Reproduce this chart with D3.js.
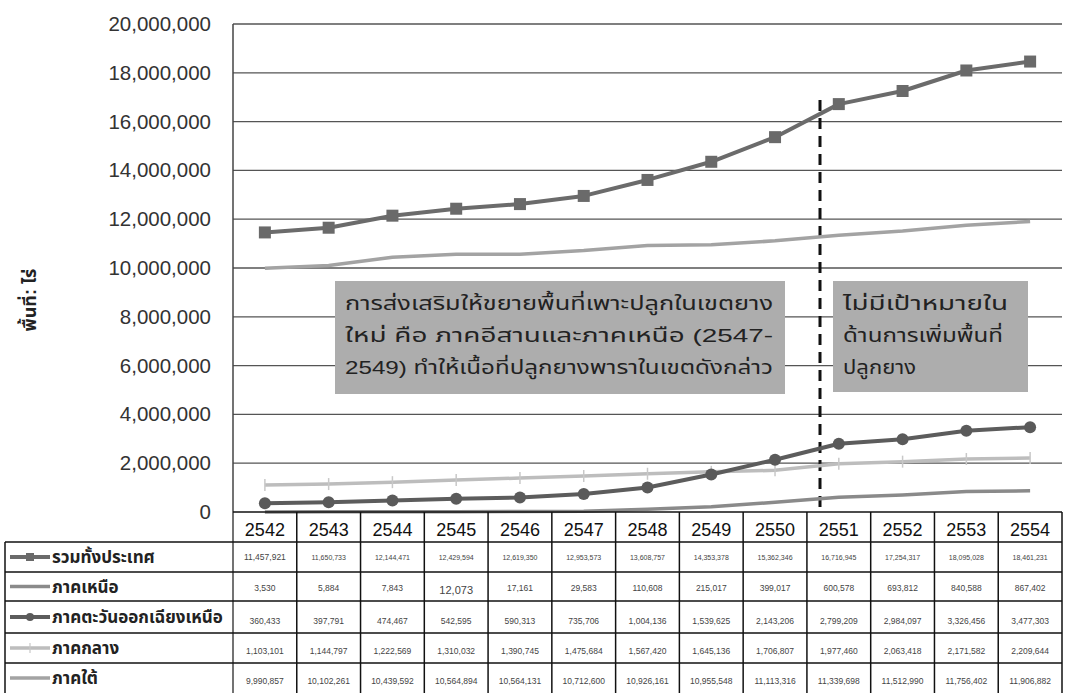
<!DOCTYPE html>
<html><head><meta charset="utf-8">
<script src="https://cdn.jsdelivr.net/npm/d3@7/dist/d3.min.js"></script>
<style>body{margin:0;background:#fff}svg{display:block}</style>
</head><body>
<svg id="c" width="1066" height="693"></svg>
<script>
const years = ["2542","2543","2544","2545","2546","2547","2548","2549","2550","2551","2552","2553","2554"];
const seriesNames = ["รวมทั้งประเทศ","ภาคเหนือ","ภาคตะวันออกเฉียงเหนือ","ภาคกลาง","ภาคใต้"];
const total   = [11457921,11650733,12144471,12429594,12619350,12953573,13608757,14353378,15362346,16716945,17254317,18095028,18461231];
const north   = [3530,5884,7843,12073,17161,29583,110608,215017,399017,600578,693812,840588,867402];
const northeast = [360433,397791,474467,542595,590313,735706,1004136,1539625,2143206,2799209,2984097,3326456,3477303];
const central = [1103101,1144797,1222569,1310032,1390745,1475684,1567420,1645136,1706807,1977460,2063418,2171582,2209644];
const south   = [9990857,10102261,10439592,10564894,10564131,10712600,10926161,10955548,11113316,11339698,11512990,11756402,11906882];
const yTicks = [0,2000000,4000000,6000000,8000000,10000000,12000000,14000000,16000000,18000000,20000000];
const yTitle = "พื้นที่: ไร่";
const note1 = ["การส่งเสริมให้ขยายพื้นที่เพาะปลูกในเขตยาง","ใหม่  คือ  ภาคอีสานและภาคเหนือ   (2547-","2549) ทำให้เนื้อที่ปลูกยางพาราในเขตดังกล่าว"];
const note2 = ["ไม่มีเป้าหมายใน","ด้านการเพิ่มพื้นที่","ปลูกยาง"];

const series = [
  {name:seriesNames[0], values:total, color:"#6b6b6b", width:4, marker:"square"},
  {name:seriesNames[1], values:north, color:"#8a8a8a", width:3.5, marker:"none"},
  {name:seriesNames[2], values:northeast, color:"#5c5c5c", width:4, marker:"circle"},
  {name:seriesNames[3], values:central, color:"#bdbdbd", width:3.5, marker:"plus"},
  {name:seriesNames[4], values:south, color:"#a3a3a3", width:3.5, marker:"none"}
];

const svg = d3.select("#c");
const L = 233, R = 1062, T = 24, B = 512;
const x = d3.scaleBand().domain(years).range([L,R]);
const y = d3.scaleLinear().domain([0,20000000]).range([B,T]);
const font = "'Liberation Sans', Arial, 'Noto Sans Thai', sans-serif";

// gridlines
svg.append("g").selectAll("line").data(yTicks.filter(d=>d>0)).join("line")
  .attr("x1",L).attr("x2",R).attr("y1",d=>y(d)).attr("y2",d=>y(d))
  .attr("stroke","#555").attr("stroke-width",1.3);
svg.append("line").attr("x1",L).attr("x2",L).attr("y1",T).attr("y2",693).attr("stroke","#444").attr("stroke-width",1.5);

// y axis labels
const yAxis = d3.axisLeft(y).tickValues(yTicks).tickFormat(d3.format(",")).tickSize(0).tickPadding(22);
const ga = svg.append("g").attr("transform",`translate(${L},0)`).call(yAxis);
ga.select(".domain").remove();
ga.selectAll("text").attr("font-family",font).attr("font-size",20.5).attr("fill","#333");

svg.append("text").attr("transform","translate(36,300) rotate(-90)").attr("text-anchor","middle")
  .attr("font-family",font).attr("font-size",18).attr("font-weight","bold").attr("fill","#222").text(yTitle);

// annotation boxes
function box(x0,y0,w,h,lines,widths){
  svg.append("rect").attr("x",x0).attr("y",y0).attr("width",w).attr("height",h).attr("fill","#adadad");
  svg.append("g").selectAll("text").data(lines).join("text")
    .attr("x",x0+10).attr("y",(d,i)=>y0+29+i*32)
    .attr("textLength",(d,i)=>widths[i]).attr("lengthAdjust","spacingAndGlyphs")
    .attr("font-family",font).attr("font-size",19).attr("fill","#222").text(d=>d);
}
box(335,281,450,113,note1,[428,428,428]);
box(833,281,195,111,note2,[165,160,73]);

// dashed divider
svg.append("line").attr("x1",820).attr("x2",820).attr("y1",100).attr("y2",B)
  .attr("stroke","#111").attr("stroke-width",3).attr("stroke-dasharray","11,7");

// lines
const cx = d=>x(d)+x.bandwidth()/2;
const order = [4,3,1,2,0];
order.forEach(i=>{
  const s = series[i];
  const line = d3.line().x((d,j)=>cx(years[j])).y(d=>y(d));
  svg.append("path").datum(s.values).attr("d",line).attr("fill","none")
    .attr("stroke",s.color).attr("stroke-width",s.width).attr("stroke-linejoin","round");
  const g = svg.append("g");
  s.values.forEach((v,j)=>{
    const px = cx(years[j]), py = y(v);
    if(s.marker==="square") g.append("rect").attr("x",px-6).attr("y",py-6).attr("width",12).attr("height",12).attr("fill","#6a6a6a");
    if(s.marker==="circle") g.append("circle").attr("cx",px).attr("cy",py).attr("r",6).attr("fill","#5a5a5a");
    if(s.marker==="plus") g.append("line").attr("x1",px).attr("x2",px).attr("y1",py-6).attr("y2",py+6).attr("stroke","#c8c8c8").attr("stroke-width",1.5);
  });
});

// table
const rowY = [512,542,572,601,633,663,693];
const tg = svg.append("g");
tg.append("line").attr("x1",L).attr("x2",R).attr("y1",rowY[0]).attr("y2",rowY[0]).attr("stroke","#111").attr("stroke-width",1.5);
for(let r=1;r<rowY.length-1;r++){
  tg.append("line").attr("x1",5).attr("x2",R).attr("y1",rowY[r]).attr("y2",rowY[r]).attr("stroke","#111").attr("stroke-width",1.5);
}
years.forEach((yr,i)=>{
  const xx = x(yr)+x.bandwidth();
  tg.append("line").attr("x1",xx).attr("x2",xx).attr("y1",rowY[0]).attr("y2",693).attr("stroke","#111").attr("stroke-width",1.5);
});
tg.append("line").attr("x1",5).attr("x2",5).attr("y1",rowY[1]).attr("y2",693).attr("stroke","#111").attr("stroke-width",1.5);
tg.selectAll("text.yr").data(years).join("text").attr("class","yr")
  .attr("x",d=>cx(d)).attr("y",rowY[0]+24).attr("text-anchor","middle")
  .attr("font-family",font).attr("font-size",18).attr("fill","#111").text(d=>d);
const fmt = d3.format(",");
series.forEach((s,i)=>{
  const y0 = rowY[i+1], y1 = rowY[i+2], mid=(y0+y1)/2;
  tg.append("line").attr("x1",10).attr("x2",50).attr("y1",mid).attr("y2",mid).attr("stroke",s.color).attr("stroke-width",s.width);
  if(s.marker==="square") tg.append("rect").attr("x",26).attr("y",mid-4).attr("width",8).attr("height",8).attr("fill","#6a6a6a");
  if(s.marker==="circle") tg.append("circle").attr("cx",30).attr("cy",mid).attr("r",4).attr("fill","#5a5a5a");
  if(s.marker==="plus") tg.append("line").attr("x1",30).attr("x2",30).attr("y1",mid-5).attr("y2",mid+5).attr("stroke","#c8c8c8").attr("stroke-width",1.2);
  tg.append("text").attr("x",52).attr("y",mid+6).attr("font-family",font).attr("font-size",17).attr("font-weight","bold").attr("fill","#222").text(s.name);
  s.values.forEach((v,j)=>{
    const big = (i===1 && j===3);
    tg.append("text").attr("x",cx(years[j])).attr("y", i===0 ? mid+3 : (i>=2 ? y1-9 : (big? mid+7 : mid+4)))
      .attr("text-anchor","middle").attr("font-family",font)
      .attr("font-size", i===0 ? (j===0?8.5:7) : (big?11:8.5)).attr("fill","#444").text(fmt(v));
  });
});
</script>
</body></html>
